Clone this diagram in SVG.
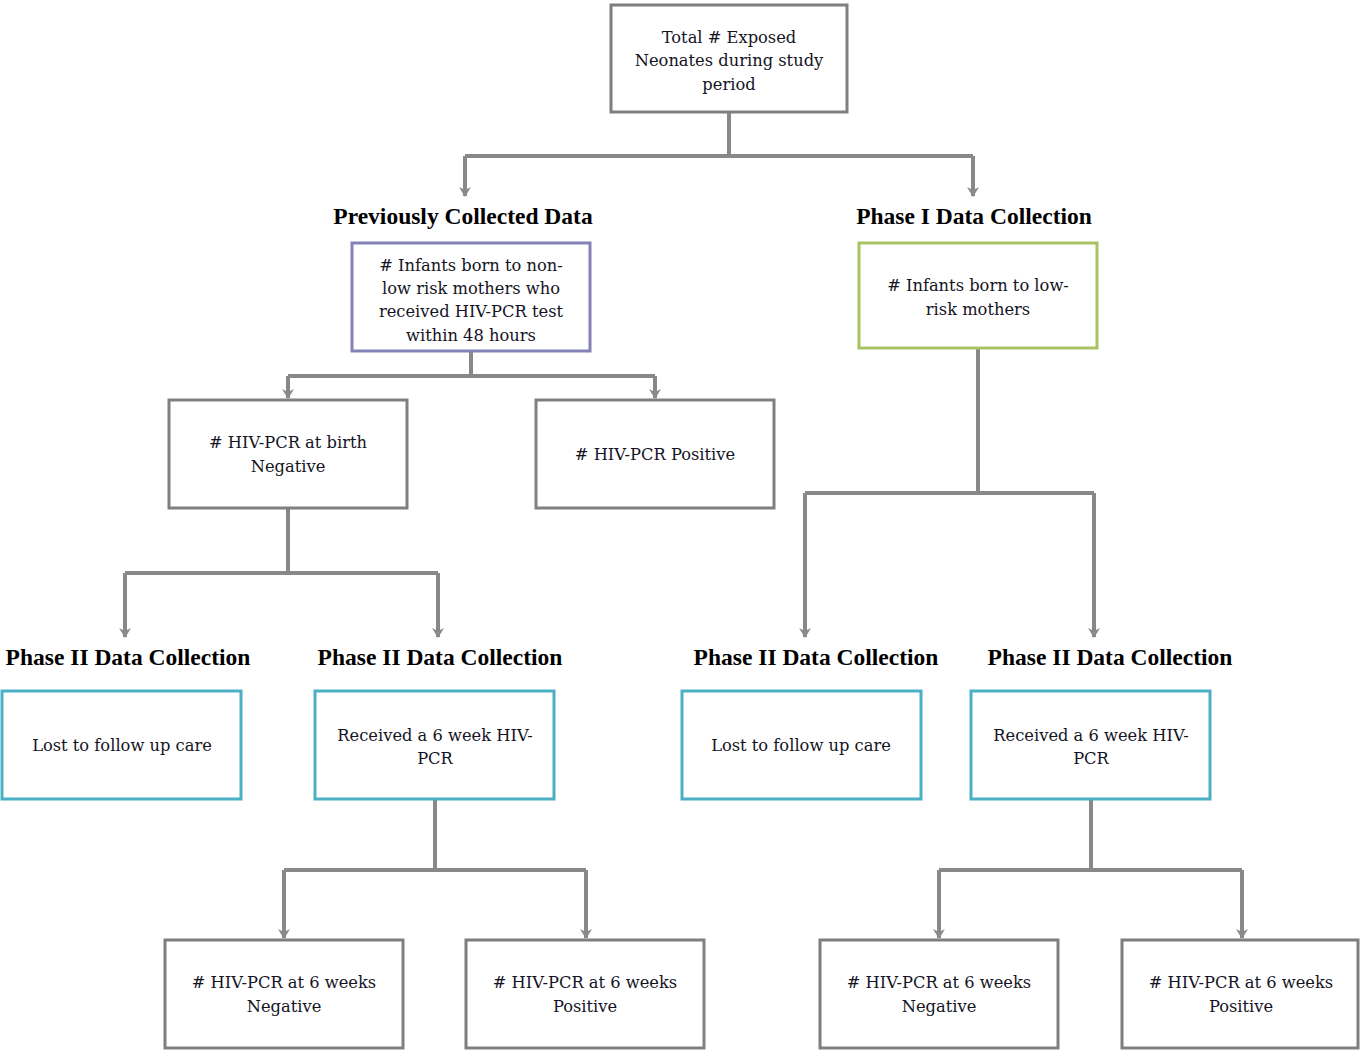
<svg xmlns="http://www.w3.org/2000/svg" width="1360" height="1050" viewBox="0 0 1360 1050">
<defs>
<marker id="arr" viewBox="0 0 12 12" refX="10" refY="6" markerWidth="12" markerHeight="12" markerUnits="userSpaceOnUse" orient="auto">
<path d="M1,0 L11,6 L1,12 L4,6 Z" fill="#8a8a8a"/>
</marker>
<style>
.box{fill:#fff;stroke:#7f7f7f;stroke-width:3}
.pur{stroke:#8481b8}
.grn{stroke:#a9c262}
.teal{stroke:#4bb0c6}
.t{font-family:"DejaVu Serif","Liberation Serif",serif;font-size:16.3px;fill:#141424;text-anchor:middle}
.h{font-family:"Liberation Serif",serif;font-weight:bold;font-size:23.5px;fill:#000;text-anchor:middle}
.c{fill:none;stroke:#888;stroke-width:4}
</style>
</defs>
<rect width="1360" height="1050" fill="#fff"/>
<g id="connectors">
<path class="c" d="M729,112 V156 M465,156 H973"/>
<path class="c" d="M465,156 V196" marker-end="url(#arr)"/>
<path class="c" d="M973,156 V196" marker-end="url(#arr)"/>
<path class="c" d="M471,351 V376 M288,376 H655"/>
<path class="c" d="M288,376 V398" marker-end="url(#arr)"/>
<path class="c" d="M655,376 V398" marker-end="url(#arr)"/>
<path class="c" d="M288,508 V573 M125,573 H438"/>
<path class="c" d="M125,573 V637" marker-end="url(#arr)"/>
<path class="c" d="M438,573 V637" marker-end="url(#arr)"/>
<path class="c" d="M978,348 V493 M805,493 H1094"/>
<path class="c" d="M805,493 V637" marker-end="url(#arr)"/>
<path class="c" d="M1094,493 V637" marker-end="url(#arr)"/>
<path class="c" d="M435,799 V870 M284,870 H586"/>
<path class="c" d="M284,870 V938" marker-end="url(#arr)"/>
<path class="c" d="M586,870 V938" marker-end="url(#arr)"/>
<path class="c" d="M1091,799 V870 M939,870 H1242"/>
<path class="c" d="M939,870 V938" marker-end="url(#arr)"/>
<path class="c" d="M1242,870 V938" marker-end="url(#arr)"/>
</g>
<g id="h-prev"><text class="h" x="463" y="224">Previously Collected Data</text></g>
<g id="h-phase1"><text class="h" x="974" y="224">Phase I Data Collection</text></g>
<g id="h-p2a"><text class="h" x="128" y="665">Phase II Data Collection</text></g>
<g id="h-p2b"><text class="h" x="440" y="665">Phase II Data Collection</text></g>
<g id="h-p2c"><text class="h" x="816" y="665">Phase II Data Collection</text></g>
<g id="h-p2d"><text class="h" x="1110" y="665">Phase II Data Collection</text></g>
<g id="n-total"><rect class="box" x="611" y="5" width="236" height="107"/>
<text class="t" x="729" y="43">Total # Exposed</text><text class="t" x="729" y="66">Neonates during study</text><text class="t" x="729" y="90">period</text></g>
<g id="n-nonlow"><rect class="box pur" x="352" y="243" width="238" height="108"/>
<text class="t" x="471" y="271"># Infants born to non-</text><text class="t" x="471" y="294">low risk mothers who</text><text class="t" x="471" y="317">received HIV-PCR test</text><text class="t" x="471" y="341">within 48 hours</text></g>
<g id="n-low"><rect class="box grn" x="859" y="243" width="238" height="105"/>
<text class="t" x="978" y="291"># Infants born to low-</text><text class="t" x="978" y="315">risk mothers</text></g>
<g id="n-birthneg"><rect class="box" x="169" y="400" width="238" height="108"/>
<text class="t" x="288" y="448"># HIV-PCR at birth</text><text class="t" x="288" y="472">Negative</text></g>
<g id="n-pos"><rect class="box" x="536" y="400" width="238" height="108"/>
<text class="t" x="655" y="460"># HIV-PCR Positive</text></g>
<g id="n-lost1"><rect class="box teal" x="2" y="691" width="239" height="108"/>
<text class="t" x="122" y="751">Lost to follow up care</text></g>
<g id="n-recv1"><rect class="box teal" x="315" y="691" width="239" height="108"/>
<text class="t" x="435" y="741">Received a 6 week HIV-</text><text class="t" x="435" y="764">PCR</text></g>
<g id="n-lost2"><rect class="box teal" x="682" y="691" width="239" height="108"/>
<text class="t" x="801" y="751">Lost to follow up care</text></g>
<g id="n-recv2"><rect class="box teal" x="971" y="691" width="239" height="108"/>
<text class="t" x="1091" y="741">Received a 6 week HIV-</text><text class="t" x="1091" y="764">PCR</text></g>
<g id="n-neg1"><rect class="box" x="165" y="940" width="238" height="108"/>
<text class="t" x="284" y="988"># HIV-PCR at 6 weeks</text><text class="t" x="284" y="1012">Negative</text></g>
<g id="n-pos1"><rect class="box" x="466" y="940" width="238" height="108"/>
<text class="t" x="585" y="988"># HIV-PCR at 6 weeks</text><text class="t" x="585" y="1012">Positive</text></g>
<g id="n-neg2"><rect class="box" x="820" y="940" width="238" height="108"/>
<text class="t" x="939" y="988"># HIV-PCR at 6 weeks</text><text class="t" x="939" y="1012">Negative</text></g>
<g id="n-pos2"><rect class="box" x="1122" y="940" width="236" height="108"/>
<text class="t" x="1241" y="988"># HIV-PCR at 6 weeks</text><text class="t" x="1241" y="1012">Positive</text></g>
</svg>
